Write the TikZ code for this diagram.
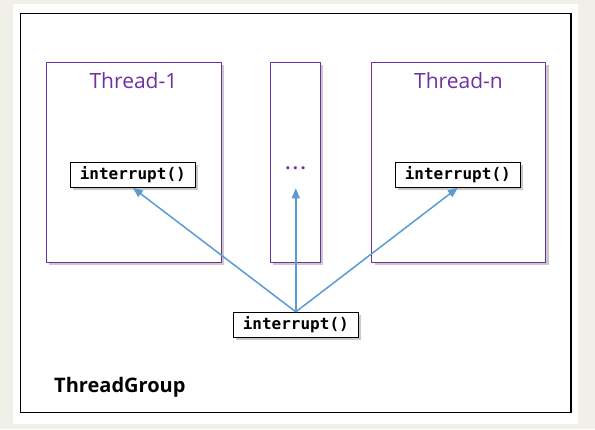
\documentclass[tikz,border=0pt]{standalone}
\usepackage{fontspec}
\setmainfont{Open Sans}
\setmonofont{DejaVu Sans Mono}
\usetikzlibrary{arrows.meta,shadows}
\definecolor{bgout}{RGB}{240,239,232}
\definecolor{thpurple}{RGB}{112,48,160}
\definecolor{arrblue}{RGB}{91,155,213}
\tikzset{
  threadbox/.style={draw=thpurple, line width=1pt, fill=white, minimum height=200pt, inner sep=0pt,
    drop shadow={shadow xshift=3pt, shadow yshift=-3pt, opacity=0.35, fill=black!60}},
  callbox/.style={draw=black, line width=0.9pt, fill=white, minimum width=125pt, minimum height=25pt, inner sep=0pt,
    font=\ttfamily\bfseries\fontsize{16}{18}\selectfont,
    drop shadow={shadow xshift=3pt, shadow yshift=-3pt, opacity=0.35, fill=black!60}},
  threadlabel/.style={text=thpurple, font=\fontsize{21}{24}\selectfont, inner sep=0pt},
  callarrow/.style={draw=arrblue, line width=1.5pt, -{Triangle[length=10pt,width=8pt]}},
}
\begin{document}
\begin{tikzpicture}[x=1pt,y=-1pt]
\useasboundingbox (0,0) rectangle (595,429);
\fill[bgout] (0,0) rectangle (595,429);
\fill[white] (13,4) rectangle (578,424);
\draw[black, line width=1.2pt] (20.7,13.3) rectangle (571,412.7);

\node[threadbox, minimum width=175pt] (t1) at (133.8,162.2) {};
\node[threadbox, minimum width=50pt] (tm) at (295.3,162.2) {};
\node[threadbox, minimum width=174.3pt] (tn) at (458.8,162.2) {};

\node[threadlabel] (l1) at (133.5,80.5) {Thread-1};
\node[threadlabel] (ln) at (458.5,80.5) {Thread-n};
\node[text=thpurple, font=\bfseries\fontsize{18}{20}\selectfont, inner sep=0pt] (dots) at (295.5,168.5) {.\hspace{2.5pt}.\hspace{2.5pt}.};

\node[callbox] (c1) at (132.8,174.8) {interrupt()};
\node[callbox] (cn) at (457.8,174.8) {interrupt()};
\node[callbox] (cb) at (295.8,324.8) {interrupt()};
\coordinate (mtip) at (295.8,188.3);

\draw[callarrow] (cb.north) -- (c1.south);
\draw[callarrow] (cb.north) -- (mtip);
\draw[callarrow] (cb.north) -- (cn.south);

\node[font=\bfseries\fontsize{20}{24}\selectfont, anchor=west, inner sep=0pt] (tg) at (54,387) {ThreadGroup};
\end{tikzpicture}
\end{document}
